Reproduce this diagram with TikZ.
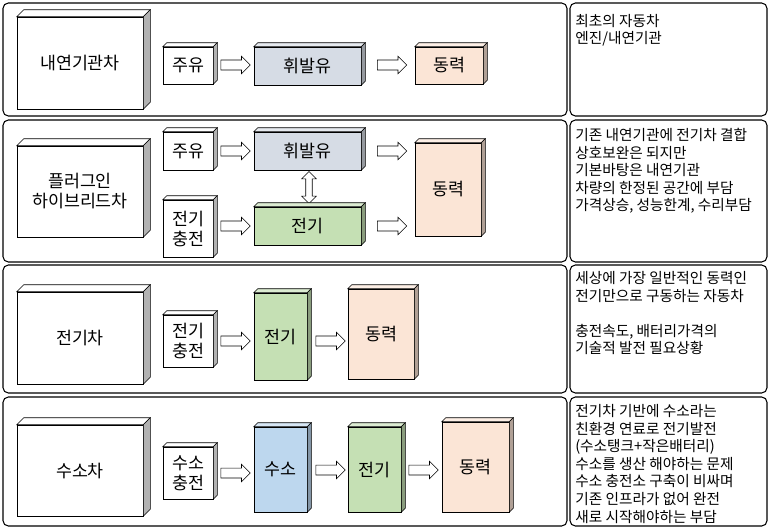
\documentclass[tikz,border=0pt]{standalone}
\usepackage{fontspec}
\setmainfont{Noto Sans CJK KR}
\usetikzlibrary{shapes.arrows}

\definecolor{oil}{HTML}{D6DCE5}
\definecolor{elec}{HTML}{C5E0B4}
\definecolor{power}{HTML}{FBE5D6}
\definecolor{hydro}{HTML}{BDD7EE}

\begin{document}
\begin{tikzpicture}[
  x=0.75pt, y=-0.75pt,
  box/.style={draw, fill=#1, inner sep=0pt, align=center, font=\fontsize{13}{15}\selectfont},
  sz/.style 2 args={minimum width=#1*0.75pt, minimum height=#2*0.75pt},
  flow/.style={draw, fill=white, single arrow, single arrow head extend=2.5pt,
    minimum width=13pt, minimum height=22pt, inner sep=3.2pt},
  panel/.style={draw, thick, rounded corners=4pt},
  note/.style={anchor=north west, align=left, inner sep=0pt,
    font=\fontsize{11}{13.2}\selectfont},
]
\useasboundingbox (0,0) rectangle (773,529);

% panels
\draw [panel] (3,3) rectangle (567,116);
\draw [panel] (3,120) rectangle (567,262);
\draw [panel] (3,265) rectangle (567,393);
\draw [panel] (3,397) rectangle (567,526);
\draw [panel] (570,3) rectangle (767,116);
\draw [panel] (570,120) rectangle (767,262);
\draw [panel] (570,265) rectangle (767,393);
\draw [panel] (570,397) rectangle (767,526);

% row 1
\node [box=white, sz={126}{92}] (car1) at (80,63) {내연기관차};
\node [box=white, sz={50}{37}] (r1a) at (188,65.5) {주유};
\node [box=oil, sz={107}{38}] (r1b) at (307.5,66) {휘발유};
\node [box=power, sz={68}{37}] (r1c) at (449,65.5) {동력};
\node [flow] (a11) at (233,65) {};
\node [flow] (a12) at (389.5,65) {};

% row 2
\node [box=white, sz={126}{91}] (car2) at (80,191.5) {플러그인\\하이브리드차};
\node [box=white, sz={50}{38}] (r2a) at (188,151) {주유};
\node [box=oil, sz={107}{38}] (r2b) at (307.5,151) {휘발유};
\node [box=white, sz={50}{57}] (r2c) at (188,228.5) {전기\\충전};
\node [box=elec, sz={107}{38}] (r2d) at (307.5,226) {전기};
\node [box=power, sz={66}{93}] (r2e) at (448,189.5) {동력};
\node [flow] (a21) at (233,151) {};
\node [flow] (a22) at (233,226) {};
\node [flow] (a23) at (389.5,151) {};
\node [flow] (a24) at (389.5,226) {};
\node [draw, fill=white, double arrow, double arrow head extend=2.5pt,
  minimum width=11pt, minimum height=24pt, inner sep=1.8pt,
  rotate=90] (a25) at (309,187.5) {};

% row 3
\node [box=white, sz={126}{92}] (car3) at (80,338) {전기차};
\node [box=white, sz={50}{52}] (r3a) at (188,341) {전기\\충전};
\node [box=elec, sz={53}{87}] (r3b) at (280.5,336.5) {전기};
\node [box=power, sz={66}{90}] (r3c) at (381,334) {동력};
\node [flow] (a31) at (233,341) {};
\node [flow] (a32) at (328,341) {};

% row 4
\node [box=white, sz={126}{91}] (car4) at (80,470.5) {수소차};
\node [box=white, sz={50}{52}] (r4a) at (188,473) {수소\\충전};
\node [box=hydro, sz={53}{85}] (r4b) at (280.5,469.5) {수소};
\node [box=elec, sz={53}{85}] (r4c) at (374.5,469.5) {전기};
\node [box=power, sz={67}{90}] (r4d) at (475.5,467) {동력};
\node [flow] (a41) at (233,473) {};
\node [flow] (a42) at (328,470) {};
\node [flow] (a43) at (421,470) {};

% depth faces
\foreach \n/\c/\d in {car1/white/7, car2/white/7, car3/white/7, car4/white/7,
    r1a/white/4, r1b/oil/4, r1c/power/4, r2a/white/4, r2b/oil/4, r2c/white/4,
    r2d/elec/4, r2e/power/4, r3a/white/4, r3b/elec/4, r3c/power/4,
    r4a/white/4, r4b/hydro/4, r4c/elec/4, r4d/power/4} {
  \draw [fill=\c!60!white] (\n.north west) -- ++(\d,-\d) -- ([shift={(\d,-\d)}]\n.north east)
    -- (\n.north east) -- cycle;
  \draw [fill=\c!70!black] (\n.north east) -- ++(\d,-\d) -- ([shift={(\d,-\d)}]\n.south east)
    -- (\n.south east) -- cycle;
}

% notes
\node [note] (n1) at (575,14) {최초의 자동차\\엔진/내연기관};
\node [note] (n2) at (575,128) {기존 내연기관에 전기차 결합\\상호보완은 되지만\\기본바탕은 내연기관\\차량의 한정된 공간에 부담\\가격상승, 성능한계, 수리부담};
\node [note] (n3) at (575,271) {세상에 가장 일반적인 동력인\\전기만으로 구동하는 자동차\\[13.2pt]충전속도, 배터리가격의\\기술적 발전 필요상황};
\node [note] (n4) at (575,404) {전기차 기반에 수소라는\\친환경 연료로 전기발전\\(수소탱크+작은배터리)\\수소를 생산 해야하는 문제\\수소 충전소 구축이 비싸며\\기존 인프라가 없어 완전\\새로 시작해야하는 부담};
\end{tikzpicture}
\end{document}
